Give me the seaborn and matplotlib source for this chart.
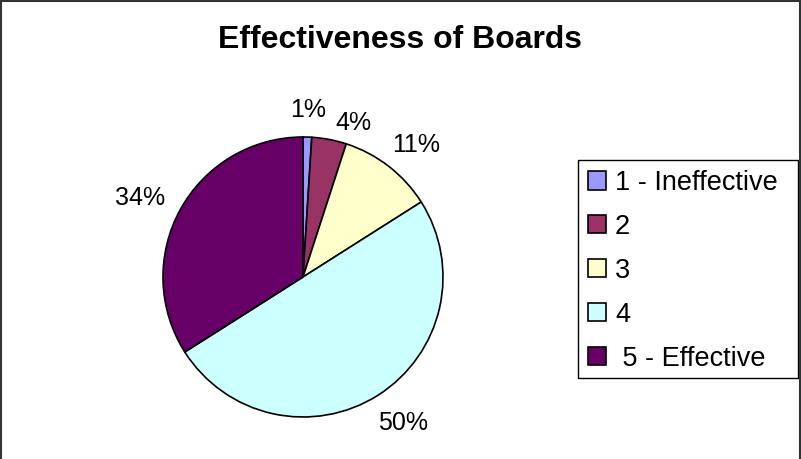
import matplotlib
matplotlib.use("Agg")
import numpy as np
import matplotlib.pyplot as plt
import seaborn as sns
from matplotlib.lines import Line2D
from matplotlib.patches import Rectangle

sns.set_theme(style="white")
plt.rcParams['font.family'] = ['Liberation Sans', 'DejaVu Sans']
plt.rcParams['text.color'] = 'black'

categories = ["1 - Ineffective", "2", "3", "4", " 5 - Effective"]
values = [1, 4, 11, 50, 34]
pct_labels = ["1%", "4%", "11%", "50%", "34%"]
colors = ["#9999FF", "#993366", "#FFFFCC", "#CCFFFF", "#660066"]
title = "Effectiveness of Boards"

W, H = 801, 459
fig = plt.figure(figsize=(W / 100, H / 100), dpi=100)
fig.patch.set_facecolor("white")

cx, cy, r = 303, 277, 140
ax = fig.add_axes([(cx - r) / W, (H - cy - r) / H, 2 * r / W, 2 * r / H])
wedges, _ = ax.pie(values, colors=colors, startangle=90, counterclock=False,
                   wedgeprops=dict(edgecolor="black", linewidth=1.2))
ax.set_xlim(-1, 1)
ax.set_ylim(-1, 1)
ax.set_aspect("equal")
ax.axis("off")

# Excel-style outside labels: box edge sits just outside the pie
fig.canvas.draw()
renderer = fig.canvas.get_renderer()
nudges = {1: (0.12, -0.07)}
for i, (w, lab) in enumerate(zip(wedges, pct_labels)):
    th = np.deg2rad((w.theta1 + w.theta2) / 2)
    t = ax.text(0, 0, lab, fontsize=18, color="black", ha="center", va="center")
    bb = t.get_window_extent(renderer)
    hw, hh = bb.width / 2 / r, bb.height / 2 / r * 0.75
    d = 1.15
    x = d * np.cos(th) + np.cos(th) * hw
    y = d * np.sin(th) + np.sin(th) * hh - 0.02
    dx, dy = nudges.get(i, (0, 0))
    t.set_position((x + dx, y + dy))

fig.text(0.5, 1 - 40 / H, title, ha="center", va="center",
         fontsize=23, fontweight="bold", color="black")

# legend box
fig.add_artist(Rectangle((578 / W, 1 - 378 / H), 220 / W, 218 / H, transform=fig.transFigure,
                         facecolor="white", edgecolor="black", linewidth=1.0))
leg = fig.legend(wedges, categories, loc="upper left",
                 bbox_to_anchor=(588 / W, 1 - 170 / H),
                 frameon=False, fontsize=19.5,
                 handlelength=0.65, handleheight=0.65, handletextpad=0.35,
                 labelspacing=0.66, borderpad=0.0, borderaxespad=0)
for txt in leg.get_texts():
    txt.set_color("black")
for h in leg.legend_handles:
    h.set_edgecolor("black")
    h.set_linewidth(1.2)

lc = "#333333"
fig.add_artist(Line2D([0.6 / W, 0.6 / W], [0, 1 - 0.6 / H], color=lc, lw=1.5, transform=fig.transFigure))
fig.add_artist(Line2D([0, 1 - 1.5 / W], [1 - 0.6 / H, 1 - 0.6 / H], color=lc, lw=1.5, transform=fig.transFigure))
fig.add_artist(Line2D([1 - 1.5 / W, 1 - 1.5 / W], [0, 1 - 0.6 / H], color=lc, lw=1.5, transform=fig.transFigure))

fig.savefig("out.png", dpi=100, facecolor="white")
